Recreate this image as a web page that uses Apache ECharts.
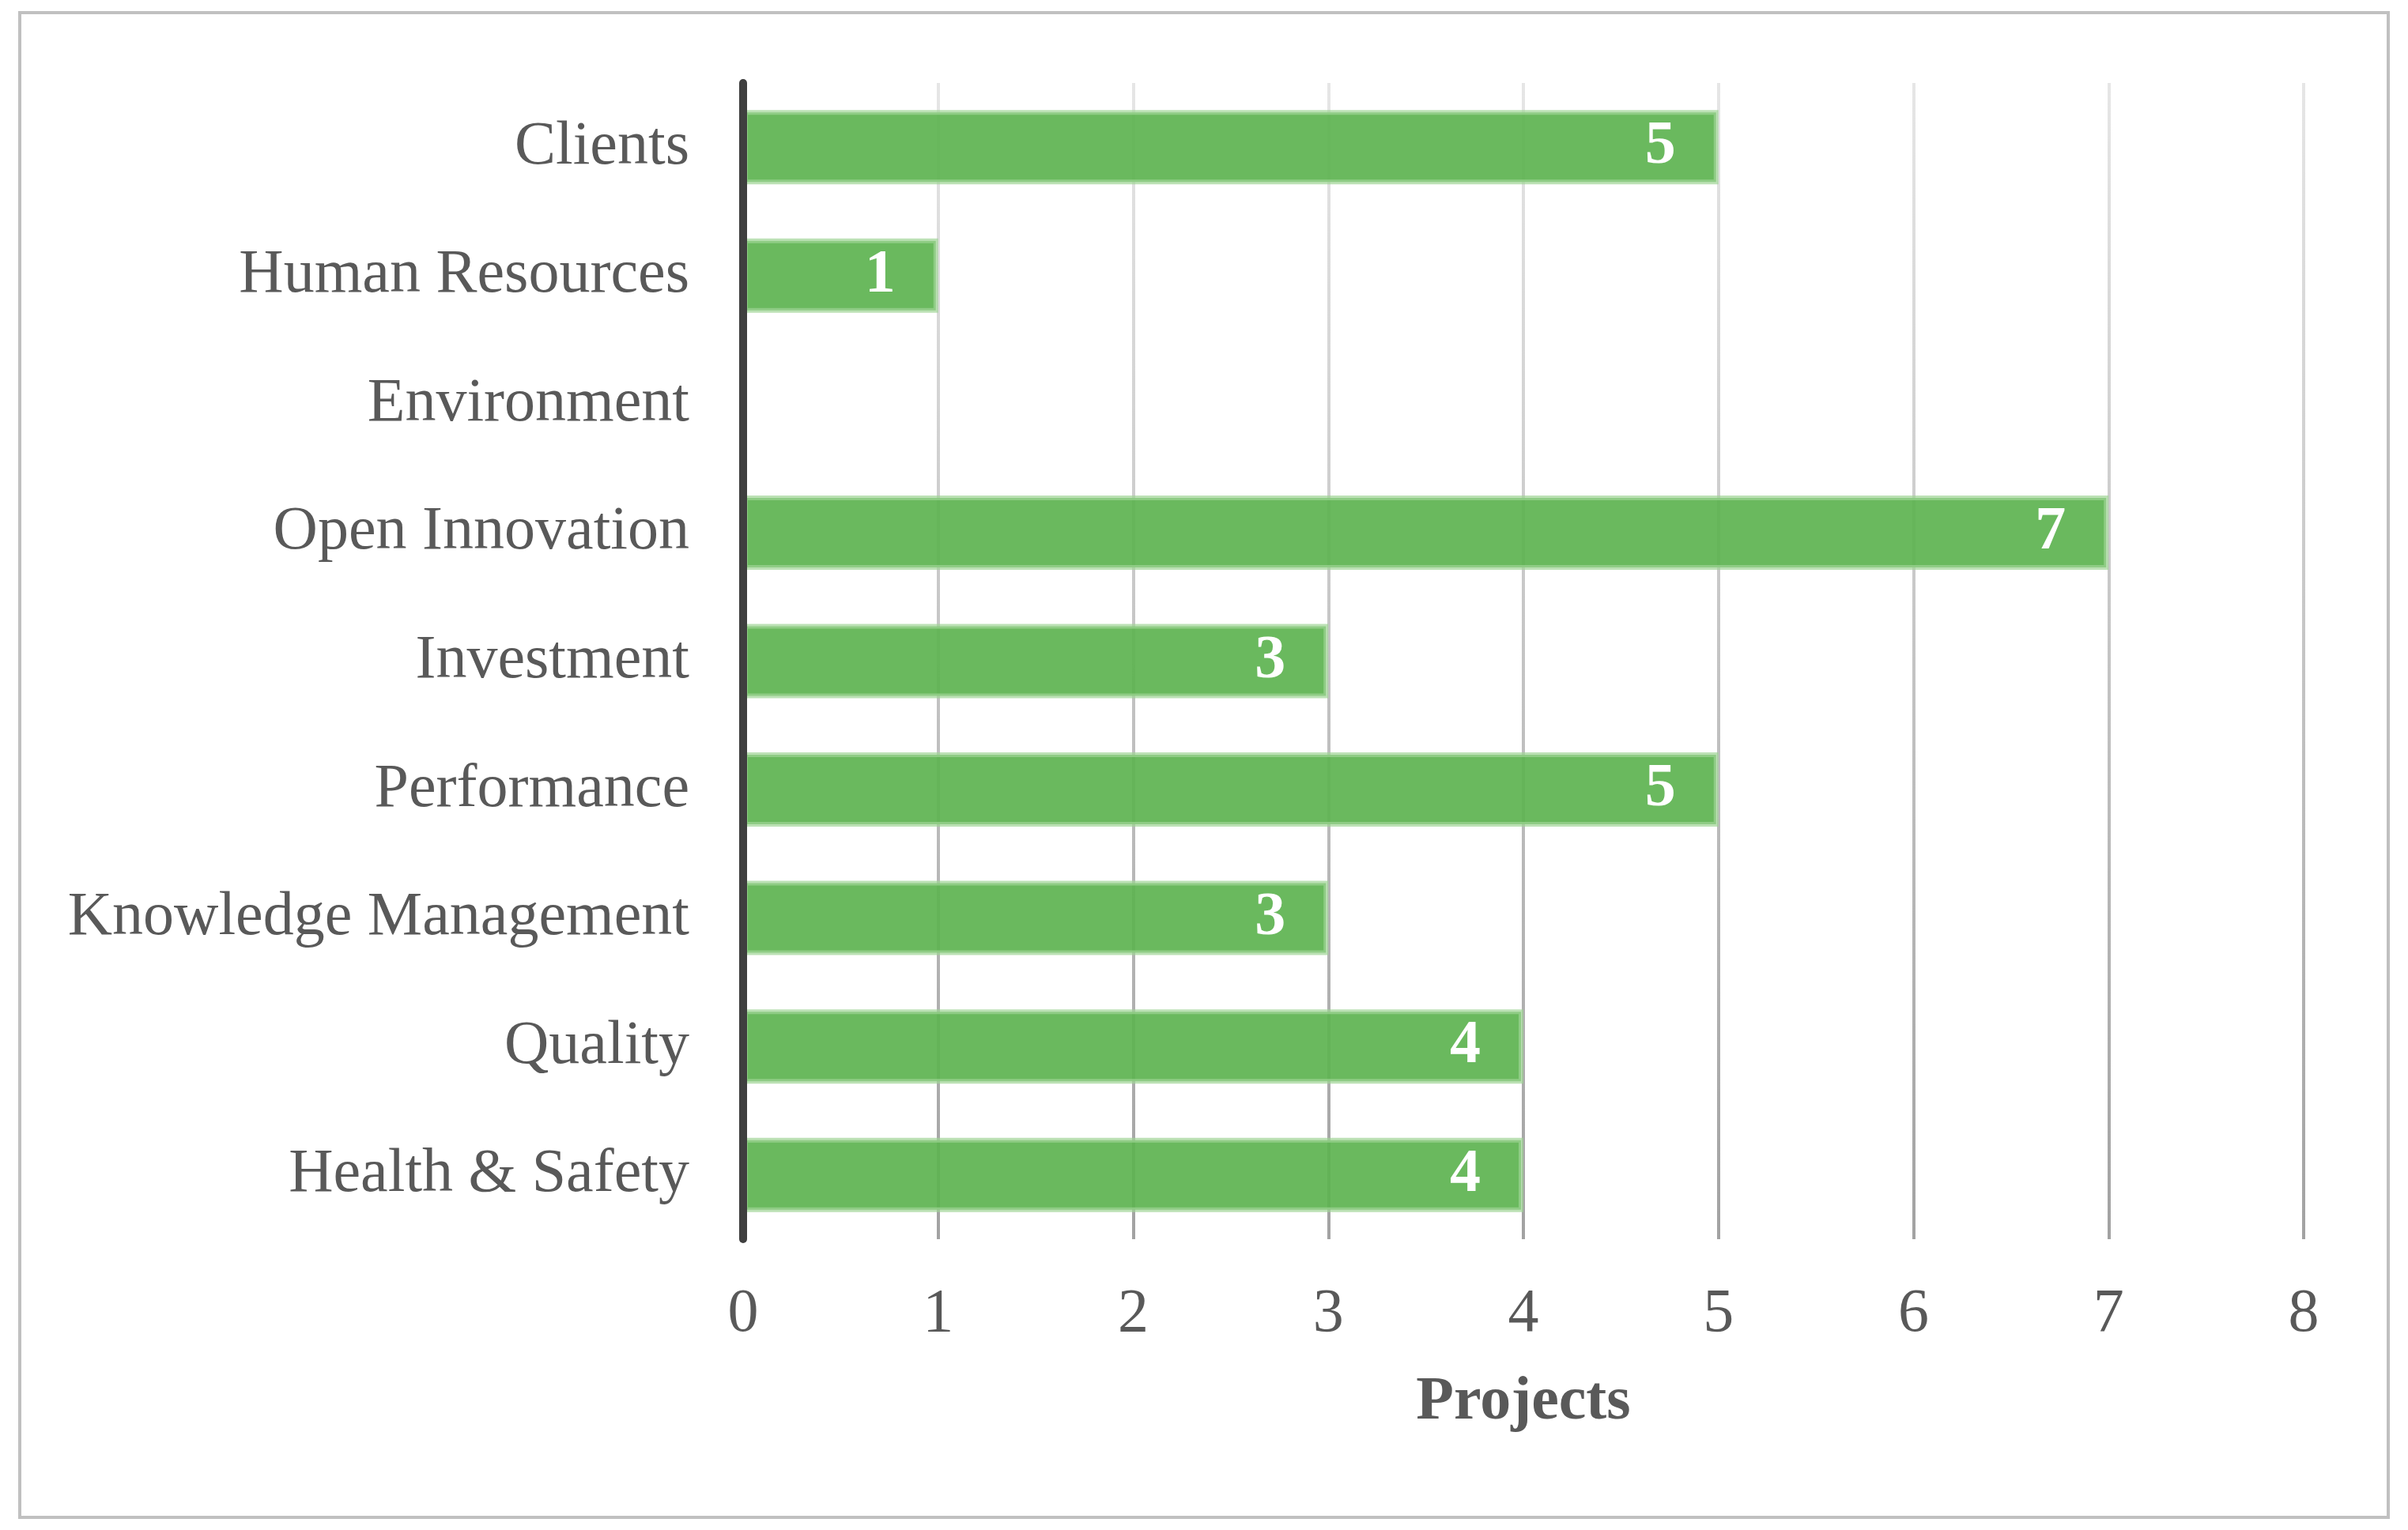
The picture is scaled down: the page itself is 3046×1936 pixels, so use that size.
<!DOCTYPE html>
<html>
<head>
<meta charset="utf-8">
<script src="https://cdn.jsdelivr.net/npm/echarts@6/dist/echarts.min.js"></script>
<style>
html,body{margin:0;padding:0;background:#fff;}
#chart{width:3046px;height:1936px;}
</style>
</head>
<body>
<div id="chart"></div>
<script>
const categories = ['Clients', 'Human Resources', 'Environment', 'Open Innovation', 'Investment', 'Performance', 'Knowledge Management', 'Quality', 'Health & Safety'];
const projects = [5, 1, 0, 7, 3, 5, 3, 4, 4];
const xTicks = [0, 1, 2, 3, 4, 5, 6, 7, 8];
const axisName = 'Projects';

const FONT = '"Liberation Serif", "DejaVu Serif", serif';
const GRID_TOP = 105, GRID_BOTTOM_PX = 1568;

const chart = echarts.init(document.getElementById('chart'));
chart.setOption({
  animation: false,
  backgroundColor: '#ffffff',
  graphic: [{
    type: 'rect',
    shape: { x: 25, y: 16, width: 2996, height: 1904 },
    style: { fill: 'none', stroke: '#c0c0c0', lineWidth: 4 },
    z: -1
  }],
  grid: { left: 940, right: 132, top: GRID_TOP, bottom: 1936 - GRID_BOTTOM_PX, containLabel: false },
  xAxis: {
    type: 'value',
    min: xTicks[0],
    max: xTicks[xTicks.length - 1],
    interval: 1,
    axisLine: { show: false },
    axisTick: { show: false },
    axisLabel: {
      color: '#595959', fontFamily: FONT, fontSize: 78, lineHeight: 78, margin: 57
    },
    splitLine: {
      show: true,
      lineStyle: {
        width: 4,
        color: new echarts.graphic.LinearGradient(0, GRID_TOP, 0, GRID_BOTTOM_PX, [
          { offset: 0, color: '#e6e6e6' },
          { offset: 1, color: '#a2a2a2' }
        ], true)
      }
    },
    name: axisName,
    nameLocation: 'middle',
    nameGap: 168,
    nameTextStyle: {
      color: '#595959', fontFamily: FONT, fontSize: 78, fontWeight: 'bold', lineHeight: 78
    }
  },
  yAxis: {
    type: 'category',
    data: categories,
    inverse: true,
    z: 10,
    axisLine: { show: true, lineStyle: { color: '#3f3f3f', width: 10 } },
    axisTick: { show: false },
    axisLabel: {
      color: '#595959', fontFamily: FONT, fontSize: 78, lineHeight: 78, padding: [6, 0, 0, 0], margin: 68
    },
    splitLine: { show: false }
  },
  series: [{
    type: 'bar',
    data: projects.map(v => v === 0 ? { value: v, itemStyle: { borderWidth: 0 } } : v),
    barWidth: 94,
    itemStyle: {
      color: 'rgba(93,179,80,0.92)',
      borderColor: 'rgba(160,212,150,0.7)',
      borderWidth: 6
    },
    label: {
      show: true,
      position: 'insideRight',
      distance: 54,
      color: '#ffffff',
      fontFamily: FONT,
      fontSize: 78,
      fontWeight: 'bold',
      lineHeight: 78,
      padding: [6, 0, 0, 0],
      formatter: p => p.value === 0 ? '' : String(p.value)
    },
    z: 3
  }]
});
</script>
</body>
</html>
